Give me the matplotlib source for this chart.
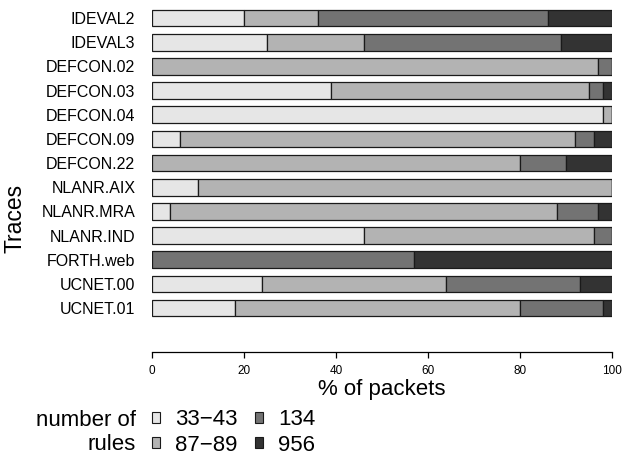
import matplotlib
matplotlib.use("Agg")
import matplotlib.pyplot as plt
from matplotlib.patches import Patch

plt.rcParams['font.family'] = ['Liberation Sans', 'DejaVu Sans']

# traces, top to bottom
traces = ["IDEVAL2", "IDEVAL3", "DEFCON.02", "DEFCON.03", "DEFCON.04",
          "DEFCON.09", "DEFCON.22", "NLANR.AIX", "NLANR.MRA", "NLANR.IND",
          "FORTH.web", "UCNET.00", "UCNET.01"]

# % of packets per number-of-rules group
rules_33_43 = [20, 25, 0, 39, 98, 6, 0, 10, 4, 46, 0, 24, 18]
rules_87_89 = [16, 21, 97, 56, 2, 86, 80, 90, 84, 50, 0, 40, 62]
rules_134 = [50, 43, 3, 3, 0, 4, 10, 0, 9, 4, 57, 29, 18]
rules_956 = [14, 11, 0, 2, 0, 4, 10, 0, 3, 0, 43, 7, 2]

group_labels = ["33\u221243", "87\u221289", "134", "956"]
group_colors = ["#e6e6e6", "#b3b3b3", "#737373", "#333333"]

fig = plt.figure(figsize=(6.23, 4.55), dpi=100)
ax = fig.add_axes([152 / 623, 1 - 352 / 455, 460 / 623, 347 / 455])

ypos = list(range(len(traces)))
left = [0] * len(traces)
for vals, col in zip([rules_33_43, rules_87_89, rules_134, rules_956], group_colors):
    ax.barh(ypos, vals, left=left, height=0.69, color=col,
            edgecolor="#1a1a1a", linewidth=0.9)
    left = [a + b for a, b in zip(left, vals)]

ax.set_xlim(0, 100)
ax.set_ylim(len(traces) - 1 + 1.82, -0.54)

for s in ["top", "right", "left"]:
    ax.spines[s].set_visible(False)
ax.spines["bottom"].set_linewidth(0.9)
ax.spines["bottom"].set_bounds(0, 100)

ax.set_xticks([0, 20, 40, 60, 80, 100])
ax.tick_params(axis="x", labelsize=8.5, length=4.5, width=0.9, pad=5)
ax.set_yticks(ypos)
ax.set_yticklabels(traces, fontsize=11.5)
ax.tick_params(axis="y", length=0, pad=12)

ax.set_xlabel("% of packets", fontsize=16, labelpad=1)
ax.set_ylabel("Traces", fontsize=16.5)
ax.yaxis.set_label_coords(-0.272, 0.386)

handles = [Patch(facecolor=c, edgecolor="#1a1a1a", linewidth=0.8) for c in group_colors]
fig.legend(handles, group_labels, loc="center left",
           bbox_to_anchor=(152 / 623, 1 - 432.5 / 455), ncol=2, frameon=False,
           fontsize=16, handlelength=0.37, handleheight=0.37,
           handletextpad=0.68, columnspacing=0.75, labelspacing=0.21,
           borderaxespad=0, borderpad=0)
fig.text(136 / 623, 1 - 420 / 455, "number of", ha="right", va="center", fontsize=16)
fig.text(136 / 623, 1 - 445 / 455, "rules", ha="right", va="center", fontsize=16)

fig.savefig("out.png", dpi=100)
